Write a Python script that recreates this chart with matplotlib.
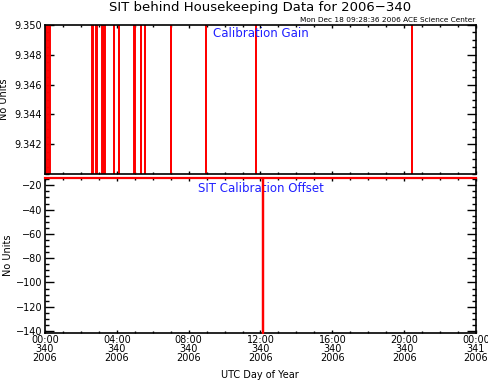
import numpy as np
import matplotlib
matplotlib.use("Agg")
import matplotlib.pyplot as plt
from matplotlib.ticker import MultipleLocator, FixedLocator

# ---- data (hours of day 340, 2006) ----
# Calibration gain: baseline just above 9.350, dropouts below 9.340
gain_drop_start = [0.05, 0.22, 2.60, 2.82, 3.19, 3.30, 3.84, 4.12, 4.94, 5.35, 5.58, 7.00, 8.98, 11.73, 20.42]
gain_drop_end   = [0.11, 0.27, 2.69, 2.90, 3.24, 3.36, 3.85, 4.13, 5.03, 5.36, 5.59, 7.01, 8.99, 11.74, 20.43]
gain_base = 9.3502
gain_low = 9.3300

# Calibration offset
offset_time  = [0.0, 12.14, 12.14, 12.16, 12.16, 24.0]
offset_value = [-14.0, -14.0, -141.6, -141.6, -14.0, -14.0]

xtick_hours = [0, 4, 8, 12, 16, 20, 24]
xtick_labels = ["00:00\n340\n2006", "04:00\n340\n2006", "08:00\n340\n2006",
                "12:00\n340\n2006", "16:00\n340\n2006", "20:00\n340\n2006",
                "00:00\n341\n2006"]
gain_ticks = [9.342, 9.344, 9.346, 9.348, 9.350]
offset_ticks = [-140, -120, -100, -80, -60, -40, -20]

# build gain step series
gt, gv = [0.0], [gain_base]
for s, e in zip(gain_drop_start, gain_drop_end):
    gt += [s, s, e, e]
    gv += [gain_base, gain_low, gain_low, gain_base]
gt.append(24.0); gv.append(gain_base)

W, H = 489, 382
fig = plt.figure(figsize=(W/100, H/100), dpi=100)
plt.rcParams['font.family'] = ['DejaVu Sans']

L, R = 45/W, 476/W
ax1 = fig.add_axes([L, 1-174/H, R-L, (174-25)/H])
ax2 = fig.add_axes([L, 1-333/H, R-L, (333-178)/H])

for ax in (ax1, ax2):
    ax.set_xlim(0, 24)
    ax.xaxis.set_major_locator(FixedLocator(xtick_hours))
    ax.xaxis.set_minor_locator(MultipleLocator(1))
    for sp in ax.spines.values():
        sp.set_linewidth(1.2)
    ax.tick_params(axis='both', which='both', direction='in', top=True, right=True,
                   labelsize=7, width=1.0, pad=2)
    ax.tick_params(axis='x', which='major', length=2.3)
    ax.tick_params(axis='x', which='minor', length=1.2)
    ax.tick_params(axis='y', which='major', length=6.2)
    ax.tick_params(axis='y', which='minor', length=3.1)

# top panel
ax1.plot(gt, gv, color='red', lw=1.4)
ax1.set_ylim(9.340, 9.350)
ax1.yaxis.set_major_locator(FixedLocator(gain_ticks))
ax1.yaxis.set_minor_locator(MultipleLocator(0.0005))
ax1.set_yticklabels([f"{v:.3f}" for v in gain_ticks])
ax1.set_xticklabels([])
ax1.set_ylabel("No Units", fontsize=7, labelpad=4)
ax1.text(0.5, 0.94, "Calibration Gain", transform=ax1.transAxes, ha='center', va='center',
         color='#2020ff', fontsize=8.5)

# bottom panel
ax2.plot(offset_time, offset_value, color='red', lw=1.6, clip_on=False, zorder=5)
ax2.set_ylim(-141.6, -14.0)
ax2.yaxis.set_major_locator(FixedLocator(offset_ticks))
ax2.yaxis.set_minor_locator(MultipleLocator(5))
ax2.set_yticklabels([f"\u2212{abs(v)}" for v in offset_ticks])
ax2.set_xticklabels(xtick_labels, fontsize=7, linespacing=0.85)
ax2.tick_params(axis='x', which='major', pad=1.5)
ax2.set_ylabel("No Units", fontsize=7, labelpad=2)
ax2.text(0.5, 0.935, "SIT Calibration Offset", transform=ax2.transAxes, ha='center', va='center',
         color='#2020ff', fontsize=8.5)

fig.text(260/W, 1-375/H, "UTC Day of Year", ha='center', va='center', fontsize=7)
fig.text(260/W, 1-8/H, "SIT behind Housekeeping Data for 2006\u2212340", ha='center', va='center',
         fontsize=9.5)
fig.text(475/W, 1-20.5/H, "Mon Dec 18 09:28:36 2006 ACE Science Center", ha='right', va='center',
         fontsize=5.3)

fig.savefig("out.png", dpi=100)
